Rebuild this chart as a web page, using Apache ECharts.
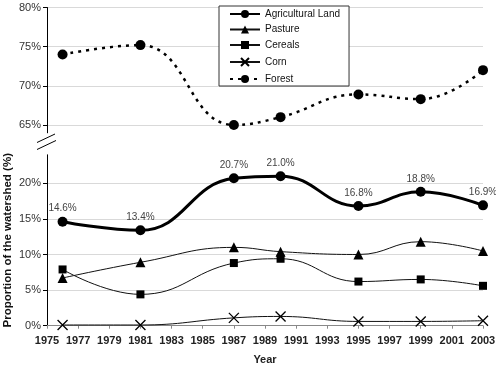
<!DOCTYPE html>
<html>
<head>
<meta charset="utf-8">
<script src="https://cdn.jsdelivr.net/npm/echarts@6/dist/echarts.min.js"></script>
<style>
  html, body { margin: 0; padding: 0; background: #fff; }
  #chart { width: 496px; height: 371px; }
</style>
</head>
<body>
<div id="chart"></div>
<script>
// survey years and land-use shares (% of the watershed)
const years = [1976, 1981, 1987, 1990, 1995, 1999, 2003]
const agricultural = [14.6, 13.4, 20.7, 21.0, 16.8, 18.8, 16.9]
const pasture = [6.7, 8.9, 11.0, 10.4, 10.0, 11.8, 10.5]
const cereals = [7.9, 4.4, 8.8, 9.4, 6.2, 6.5, 5.6]
const corn = [0.1, 0.1, 1.1, 1.3, 0.6, 0.6, 0.7]
const forest = [74.0, 75.2, 65.0, 66.0, 68.9, 68.3, 72.0]

const lowTicks = [0, 5, 10, 15, 20]
const highTicks = [65, 70, 75, 80]

const FONT = 'Liberation Sans, Arial, sans-serif'
const toPairs = (vals) => vals.map((v, i) => [years[i], v])

const chart = echarts.init(document.getElementById('chart'))

const xBase = {
  type: 'value',
  min: 1975,
  max: 2003,
  interval: 2
}

chart.setOption({
  animation: false,
  textStyle: { fontFamily: FONT },
  grid: [
    { left: 47, right: 13, top: 7.5, height: 125.3, outerBoundsMode: 'none', containLabel: false },
    { left: 47, right: 13, top: 154.8, bottom: 45.3, outerBoundsMode: 'none', containLabel: false }
  ],
  legend: {
    orient: 'vertical',
    left: 219,
    top: 6,
    padding: [3, 9, 2, 10],
    itemWidth: 30,
    itemHeight: 10,
    itemGap: 5.5,
    backgroundColor: '#fff',
    borderColor: '#333',
    borderWidth: 1,
    borderRadius: 0,
    textStyle: { fontSize: 10, color: '#111', fontFamily: FONT },
    data: ['Agricultural Land', 'Pasture', 'Cereals', 'Corn', 'Forest']
  },
  xAxis: [
    Object.assign({}, xBase, { gridIndex: 0, show: false }),
    Object.assign({}, xBase, {
      gridIndex: 1,
      name: 'Year',
      nameLocation: 'middle',
      nameGap: 29,
      nameMoveOverlap: false,
      nameTextStyle: { fontWeight: 'bold', fontSize: 11, color: '#222' },
      axisLine: { lineStyle: { color: '#888' } },
      axisTick: { show: true, length: 3, lineStyle: { color: '#888' } },
      axisLabel: { fontWeight: 'bold', fontSize: 11, color: '#222', margin: 10, formatter: (v) => String(v) },
      splitLine: { show: false }
    })
  ],
  yAxis: [
    {
      type: 'value',
      gridIndex: 0,
      min: 64,
      max: 80,
      axisLine: { show: true, lineStyle: { color: '#000' } },
      axisTick: { show: true, length: 4, customValues: highTicks, lineStyle: { color: '#000' } },
      axisLabel: { customValues: highTicks, fontSize: 11, color: '#333', margin: 6, formatter: (v) => v + '%' },
      splitLine: { show: true, lineStyle: { color: '#d9d9d9' } }
    },
    {
      type: 'value',
      gridIndex: 1,
      min: 0,
      max: 24,
      name: 'Proportion of the watershed (%)',
      nameLocation: 'middle',
      nameGap: 33,
      nameMoveOverlap: false,
      nameTextStyle: { fontWeight: 'bold', fontSize: 11.5, color: '#111' },
      axisLine: { show: true, lineStyle: { color: '#000' } },
      axisTick: { show: true, length: 4, customValues: lowTicks, lineStyle: { color: '#000' } },
      axisLabel: { customValues: lowTicks, fontSize: 11, color: '#333', margin: 6, formatter: (v) => v + '%' },
      splitLine: { show: true, lineStyle: { color: '#d9d9d9' } }
    }
  ],
  graphic: [
    { type: 'line', shape: { x1: 37, y1: 142.5, x2: 55, y2: 134 }, style: { stroke: '#000', lineWidth: 1 } },
    { type: 'line', shape: { x1: 37, y1: 149.5, x2: 56, y2: 140.5 }, style: { stroke: '#000', lineWidth: 1 } }
  ],
  series: [
    {
      name: 'Agricultural Land',
      type: 'line',
      xAxisIndex: 1,
      yAxisIndex: 1,
      smooth: 0.45,
      symbol: 'circle',
      symbolSize: 10,
      itemStyle: { color: '#000' },
      lineStyle: { color: '#000', width: 3 },
      label: {
        show: true,
        position: 'top',
        distance: 3,
        fontSize: 10,
        color: '#444',
        formatter: (p) => p.value[1].toFixed(1) + '%'
      },
      data: toPairs(agricultural)
    },
    {
      name: 'Pasture',
      type: 'line',
      xAxisIndex: 1,
      yAxisIndex: 1,
      smooth: 0.45,
      symbol: 'triangle',
      symbolSize: 10,
      itemStyle: { color: '#000' },
      lineStyle: { color: '#111', width: 1 },
      data: toPairs(pasture)
    },
    {
      name: 'Cereals',
      type: 'line',
      xAxisIndex: 1,
      yAxisIndex: 1,
      smooth: 0.45,
      symbol: 'rect',
      symbolSize: 8,
      itemStyle: { color: '#000' },
      lineStyle: { color: '#111', width: 1 },
      data: toPairs(cereals)
    },
    {
      name: 'Corn',
      type: 'line',
      xAxisIndex: 1,
      yAxisIndex: 1,
      smooth: 0.45,
      symbol: 'path://M0 0L10 10M10 0L0 10',
      symbolSize: 10,
      itemStyle: { color: 'none', borderColor: '#000', borderWidth: 1.3 },
      lineStyle: { color: '#111', width: 1 },
      data: toPairs(corn)
    },
    {
      name: 'Forest',
      type: 'line',
      xAxisIndex: 0,
      yAxisIndex: 0,
      smooth: 0.45,
      clip: false,
      symbol: 'circle',
      symbolSize: 10,
      itemStyle: { color: '#000' },
      lineStyle: { color: '#000', width: 2.5, type: [3, 5] },
      data: toPairs(forest)
    }
  ]
})
</script>
</body>
</html>
